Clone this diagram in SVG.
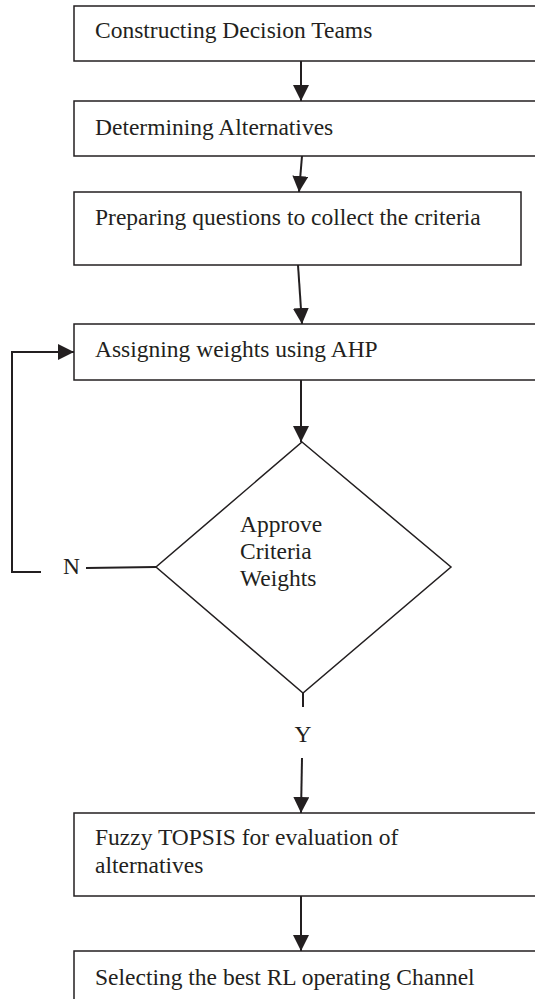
<svg xmlns="http://www.w3.org/2000/svg" width="535" height="999" viewBox="0 0 535 999">
<style>
.box{fill:#fff;stroke:#231f20;stroke-width:1.5}
.ln{fill:none;stroke:#231f20;stroke-width:2}
text{font-family:"Liberation Serif","Times New Roman",serif;font-size:23.5px;fill:#231f20}
</style>
<defs>
<marker id="ah" viewBox="0 0 16 16" refX="16" refY="8" markerWidth="16" markerHeight="16" markerUnits="userSpaceOnUse" orient="auto">
<path d="M0,0 L16,8 L0,16 Z" fill="#231f20"/>
</marker>
</defs>
<rect width="535" height="999" fill="#fff"/>
<g id="n1"><rect class="box" x="74" y="6" width="470" height="55"/><text x="95" y="38">Constructing Decision Teams</text></g>
<g id="n2"><rect class="box" x="74" y="101" width="470" height="55"/><text x="95" y="135">Determining Alternatives</text></g>
<g id="n3"><rect class="box" x="74" y="192" width="447" height="73"/><text x="95" y="225">Preparing questions to collect the criteria</text></g>
<g id="n4"><rect class="box" x="74" y="324" width="470" height="56"/><text x="95" y="357">Assigning weights using AHP</text></g>
<g id="n5"><polygon class="box" points="302,442 451,567 303,693 156,567"/><text x="240" y="532">Approve</text><text x="240" y="559">Criteria</text><text x="240" y="586">Weights</text></g>
<g id="n6"><rect class="box" x="74" y="813" width="470" height="83"/><text x="95" y="845">Fuzzy TOPSIS for evaluation of</text><text x="95" y="873">alternatives</text></g>
<g id="n7"><rect class="box" x="74" y="951" width="470" height="60"/><text x="95" y="985">Selecting the best RL operating Channel</text></g>
<g id="connectors">
<line class="ln" x1="301" y1="61" x2="301" y2="101" marker-end="url(#ah)"/>
<line class="ln" x1="302" y1="156" x2="299" y2="192" marker-end="url(#ah)"/>
<line class="ln" x1="298" y1="265" x2="302" y2="324" marker-end="url(#ah)"/>
<line class="ln" x1="301" y1="380" x2="301" y2="442" marker-end="url(#ah)"/>
<polyline class="ln" points="156,567 86,568"/>
<polyline class="ln" points="41,572 12,572 12,352 74,352" marker-end="url(#ah)"/>
<text x="63" y="574">N</text>
<line class="ln" x1="303" y1="693" x2="303" y2="707"/>
<text x="303" y="742" text-anchor="middle">Y</text>
<line class="ln" x1="302" y1="758" x2="301" y2="813" marker-end="url(#ah)"/>
<line class="ln" x1="301" y1="896" x2="301" y2="951" marker-end="url(#ah)"/>
</g>
</svg>
